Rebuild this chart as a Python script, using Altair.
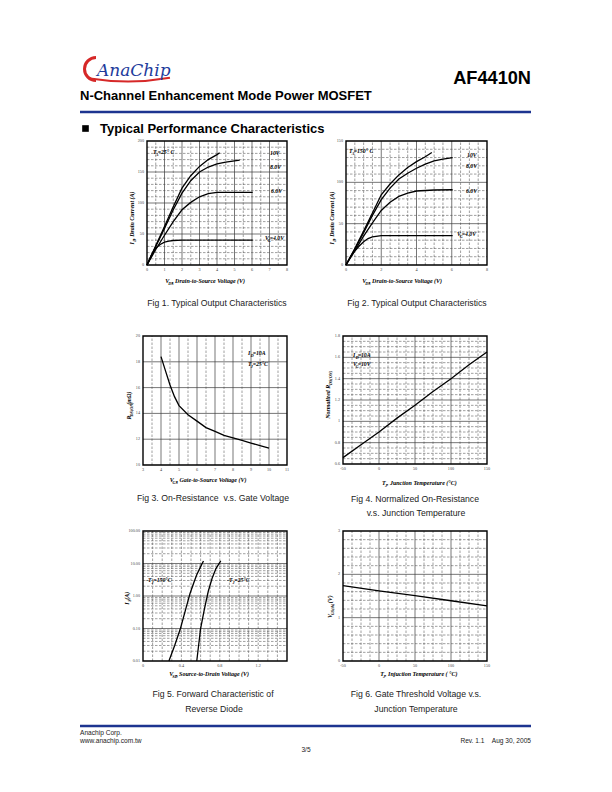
import altair as alt
import pandas as pd

# ---------------- data ----------------
# Fig 1  Output characteristics, TA = 25 C
F1_VDS_10V = [0, 0.5, 1, 1.5, 2, 2.5, 3, 3.5, 4, 4.15]
F1_ID_10V = [0, 31, 62, 94, 124, 144, 159, 170, 178, 181]
F1_VDS_8V = [0, 0.5, 1, 1.5, 2, 2.5, 3, 3.5, 4, 4.5, 5, 5.3]
F1_ID_8V = [0, 30, 59, 89, 116, 136, 150, 158, 163, 166, 168, 169]
F1_VDS_6V = [0, 0.5, 1, 1.5, 2, 2.5, 3, 3.5, 4, 5, 6.04]
F1_ID_6V = [0, 25, 48, 70, 89, 101, 110, 115, 117, 117, 117]
F1_VDS_4V = [0, 0.25, 0.5, 0.75, 1, 1.25, 1.5, 2, 3, 4, 5, 6.04]
F1_ID_4V = [0, 16, 27, 33, 37, 38.5, 39.5, 40, 40, 40, 40, 40]

# Fig 2  Output characteristics, TA = 150 C
F2_VDS_10V = [0, 0.5, 1, 1.5, 2, 2.5, 3, 3.5, 4, 4.5, 4.87]
F2_ID_10V = [0, 20, 41, 63, 85, 98, 109, 118, 125, 131, 136]
F2_VDS_8V = [0, 0.5, 1, 1.5, 2, 2.5, 3, 3.5, 4, 4.5, 5, 5.5, 6.05]
F2_ID_8V = [0, 19, 39, 60, 79, 93, 104, 111, 117, 122, 126, 128, 130]
F2_VDS_6V = [0, 0.5, 1, 1.5, 2, 2.5, 3, 3.5, 4, 5, 6.05]
F2_ID_6V = [0, 17, 35, 51, 66, 76, 83, 87, 89.5, 90.7, 91]
F2_VDS_4V = [0, 0.25, 0.5, 0.75, 1, 1.25, 1.5, 2, 3, 4, 5, 6.05]
F2_ID_4V = [0, 10, 17, 23, 28, 32, 34, 35.5, 35.5, 35.5, 35.5, 35.5]

# Fig 3  On-resistance vs gate voltage
F3_VGS = [4, 4.25, 4.5, 4.75, 5, 5.5, 6, 6.5, 7, 7.5, 8, 8.5, 9, 9.5, 10]
F3_RDS = [18.4, 17.3, 16.2, 15.3, 14.6, 13.9, 13.4, 12.9, 12.6, 12.3, 12.1, 11.9, 11.7, 11.5, 11.3]

# Fig 4  Normalized on-resistance vs junction temperature
F4_TJ = [-50, -25, 0, 25, 50, 75, 100, 125, 150]
F4_RN = [0.66, 0.78, 0.90, 1.03, 1.15, 1.28, 1.40, 1.53, 1.65]

# Fig 5  Forward characteristic of reverse diode
F5_VSD_150 = [0.27, 0.33, 0.39, 0.44, 0.49, 0.53, 0.56, 0.60, 0.63]
F5_IS_150 = [0.01, 0.03, 0.1, 0.35, 1.2, 2.6, 4.5, 8, 12]
F5_VSD_25 = [0.56, 0.60, 0.64, 0.68, 0.72, 0.76, 0.81]
F5_IS_25 = [0.01, 0.1, 0.4, 1.4, 3.5, 7, 12]

# Fig 6  Gate threshold voltage vs junction temperature
F6_TJ = [-50, 0, 50, 100, 150]
F6_VTH = [1.74, 1.62, 1.51, 1.39, 1.27]

# tick labels
F1_XT = [0, 1, 2, 3, 4, 5, 6, 7, 8]
F1_YT = [0, 50, 100, 150, 200]
F2_XT = [0, 2, 4, 6, 8]
F2_YT = [0, 50, 100, 150]
F3_XT = [3, 4, 5, 6, 7, 8, 9, 10, 11]
F3_YT = [10, 12, 14, 16, 18, 20]
F4_XT = [-50, 0, 50, 100, 150]
F4_YT = [0.6, 0.8, 1.0, 1.2, 1.4, 1.6, 1.8]
F4_YL = ["0.6", "0.8", "1", "1.2", "1.4", "1.6", "1.8"]
F5_XT = [0, 0.4, 0.8, 1.2]
F5_XL = ["0", "0.4", "0.8", "1.2"]
F5_YT = [0.01, 0.1, 1, 10, 100]
F5_YL = ["0.01", "0.10", "1.00", "10.00", "100.00"]
F6_XT = [-50, 0, 50, 100, 150]
F6_YT = [0, 1, 2, 3]

SERIF = "Liberation Serif"
SANS = "Liberation Sans"
NAVY = "#1d3490"
GRID_SOLID = "#3c3c3c"
GRID_DASH = "#505050"
NB = "\u00a0"


def one():
    return pd.DataFrame({"k": [0]})


def txt(s, x, y, size, font=SANS, bold=False, italic=False, align="left",
        color="black", angle=0, baseline="alphabetic"):
    props = dict(text=s, fontSize=size, font=font, align=align,
                 baseline=baseline, color=color)
    if bold:
        props["fontWeight"] = "bold"
    if italic:
        props["fontStyle"] = "italic"
    if angle:
        props["angle"] = angle
    return alt.Chart(one()).mark_text(**props).encode(x=alt.value(x), y=alt.value(y))


CW = 0.47


def rich(parts, x, y, size, anchor="middle", angle=0):
    ws = []
    for s, sub in parts:
        fs = size * 0.7 if sub else size
        ws.append(len(s) * fs * CW)
    total = sum(ws)
    out = []
    cur = 0.0
    for (s, sub), w in zip(parts, ws):
        fs = size * 0.7 if sub else size
        shift = size * 0.3 if sub else 0
        if angle == 0:
            start = x - total / 2 if anchor == "middle" else x
            px, py = start + cur, y + shift
        else:
            start = y + total / 2 if anchor == "middle" else y
            px, py = x + shift, start - cur
        out.append(txt(s, px, py, fs, font=SERIF, bold=True, italic=True, angle=angle))
        cur += w
    return out


def minor(lo, hi, step, skip):
    vals = []
    v = lo + step
    while v < hi - 1e-9:
        if all(abs(v - s) > 1e-9 for s in skip):
            vals.append(round(v, 6))
        v += step
    return vals


def panel(p):
    xs_kw = dict(domain=p["xdom"], range=p["xrng"], nice=False, zero=False)
    ys_kw = dict(domain=p["ydom"], range=p["yrng"], nice=False)
    if p.get("ylog"):
        ys_kw["type"] = "log"
    else:
        ys_kw["zero"] = False

    def X(f):
        return alt.X(f, scale=alt.Scale(**xs_kw), axis=None)

    def Y(f):
        return alt.Y(f, scale=alt.Scale(**ys_kw), axis=None)

    def XD(v):
        return alt.XDatum(v, scale=alt.Scale(**xs_kw), axis=None)

    def YD(v):
        return alt.YDatum(v, scale=alt.Scale(**ys_kw), axis=None)

    x0, x1 = p["xdom"]
    y0, y1 = p["ydom"]
    L = []

    def vr(vals, dashed):
        if not vals:
            return
        df = pd.DataFrame({"v": vals})
        kw = dict(color=GRID_DASH if dashed else GRID_SOLID,
                  strokeWidth=0.55 if dashed else 0.7)
        if dashed:
            kw["strokeDash"] = [2.5, 1.5]
        L.append(alt.Chart(df).mark_rule(**kw).encode(
            x=X("v:Q"), y=YD(y0), y2=alt.datum(y1)))

    def hr(vals, dashed):
        if not vals:
            return
        df = pd.DataFrame({"w": vals})
        kw = dict(color=GRID_DASH if dashed else GRID_SOLID,
                  strokeWidth=0.55 if dashed else 0.7)
        if dashed:
            kw["strokeDash"] = [2.5, 1.5]
        L.append(alt.Chart(df).mark_rule(**kw).encode(
            y=Y("w:Q"), x=XD(x0), x2=alt.datum(x1)))

    vr(p["xminor"], True)
    hr(p["yminor"], True)
    vr(p["xmajor"], False)
    hr(p["ymajor"], False)

    rows = []
    for name, xs, ys in p["series"]:
        for i, (a, b) in enumerate(zip(xs, ys)):
            rows.append({"s": name, "i": i, "x": a, "y": b})
    ldf = pd.DataFrame(rows)
    L.append(alt.Chart(ldf).mark_line(color="black", strokeWidth=1.3).encode(
        x=X("x:Q"), y=Y("y:Q"), detail="s:N", order="i:Q"))

    L.append(alt.Chart(one()).mark_rect(fillOpacity=0, stroke="black", strokeWidth=1.4).encode(
        x=XD(x0), x2=alt.datum(x1), y=YD(y0), y2=alt.datum(y1)))

    xl = p.get("xlab") or [str(v) for v in p["xt"]]
    yl = p.get("ylab") or [str(v) for v in p["yt"]]
    L.append(alt.Chart(pd.DataFrame({"t": p["xt"], "l": xl})).mark_text(
        fontSize=4.2, font=SERIF, color="#444", baseline="top").encode(
        x=X("t:Q"), y=alt.value(p["yrng"][0] + 3), text="l:N"))
    L.append(alt.Chart(pd.DataFrame({"t": p["yt"], "l": yl})).mark_text(
        fontSize=4.2, font=SERIF, color="#444", align="right", baseline="middle").encode(
        y=Y("t:Q"), x=alt.value(p["xrng"][0] - 3), text="l:N"))

    L += rich(p["xtitle"], p["xtpos"][0], p["xtpos"][1], 6)
    L += rich(p["ytitle"], p["ytpos"][0], p["ytpos"][1], 6, angle=270)
    for parts, ax, ay in p["notes"]:
        L += rich(parts, ax, ay, 5.8, anchor="start")
    for line, cx, cy in p["caption"]:
        L.append(txt(line, cx, cy, 8.7, align="center", color="#222"))
    return alt.layer(*L)


fig1 = panel(dict(
    xdom=[0, 8], xrng=[147, 287], ydom=[0, 200], yrng=[265, 141],
    xmajor=[1, 2, 3, 4, 5, 6, 7], xminor=minor(0, 8, 0.5, [1, 2, 3, 4, 5, 6, 7]),
    ymajor=[50, 100, 150], yminor=minor(0, 200, 10, [50, 100, 150]),
    series=[("10V", F1_VDS_10V, F1_ID_10V), ("8V", F1_VDS_8V, F1_ID_8V),
            ("6V", F1_VDS_6V, F1_ID_6V), ("4V", F1_VDS_4V, F1_ID_4V)],
    xt=F1_XT, yt=F1_YT,
    xtitle=[("V", 0), ("DS", 1), (" , Drain-to-Source Voltage (V)", 0)], xtpos=(211, 283),
    ytitle=[("I", 0), ("D", 1), (" , Drain Current (A)", 0)], ytpos=(134, 214),
    notes=[([("T", 0), ("A", 1), ("=25\u00b0 C", 0)], 153, 154),
           ([("10V", 0)], 270, 155), ([("8.0V", 0)], 270, 169), ([("6.0V", 0)], 271, 193),
           ([("V", 0), ("G", 1), ("=4.0V", 0)], 265, 240)],
    caption=[("Fig 1. Typical Output Characteristics", 217, 306)],
))

fig2 = panel(dict(
    xdom=[0, 8], xrng=[346, 487], ydom=[0, 150], yrng=[265, 141],
    xmajor=[2, 4, 6], xminor=minor(0, 8, 0.5, [2, 4, 6]),
    ymajor=[50, 100], yminor=minor(0, 150, 10, [50, 100]),
    series=[("10V", F2_VDS_10V, F2_ID_10V), ("8V", F2_VDS_8V, F2_ID_8V),
            ("6V", F2_VDS_6V, F2_ID_6V), ("4V", F2_VDS_4V, F2_ID_4V)],
    xt=F2_XT, yt=F2_YT,
    xtitle=[("V", 0), ("DS", 1), (" , Drain-to-Source Voltage (V)", 0)], xtpos=(408, 283),
    ytitle=[("I", 0), ("D", 1), (" , Drain Current (A)", 0)], ytpos=(334, 214),
    notes=[([("T", 0), ("A", 1), ("=150\u00b0 C", 0)], 349, 153),
           ([("10V", 0)], 467, 157), ([("8.0V", 0)], 466, 168), ([("6.0V", 0)], 466, 193),
           ([("V", 0), ("G", 1), ("=4.0V", 0)], 457, 236)],
    caption=[("Fig 2. Typical Output Characteristics", 417, 306)],
))

fig3 = panel(dict(
    xdom=[3, 11], xrng=[143, 287], ydom=[10, 20], yrng=[465, 336],
    xmajor=[4, 5, 6, 7, 8, 9, 10], xminor=minor(3, 11, 0.5, [4, 5, 6, 7, 8, 9, 10]),
    ymajor=[12, 14, 16, 18], yminor=[],
    series=[("r", F3_VGS, F3_RDS)],
    xt=F3_XT, yt=F3_YT,
    xtitle=[("V", 0), ("GS", 1), (" , Gate-to-Source Voltage (V)", 0)], xtpos=(214, 482),
    ytitle=[("R", 0), ("DS(ON)", 1), (" (m\u03a9)", 0)], ytpos=(131, 405),
    notes=[([("I", 0), ("D", 1), ("=10A", 0)], 248, 355),
           ([("T", 0), ("J", 1), ("=25\u00b0C", 0)], 248, 366)],
    caption=[("Fig 3. On-Resistance" + NB + " v.s. Gate Voltage", 213, 501)],
))

fig4 = panel(dict(
    xdom=[-50, 150], xrng=[343, 487], ydom=[0.6, 1.8], yrng=[464, 336],
    xmajor=[0, 50, 100], xminor=minor(-50, 150, 12.5, [0, 50, 100]),
    ymajor=[0.8, 1.0, 1.2, 1.4, 1.6], yminor=minor(0.6, 1.8, 0.05, [0.8, 1.0, 1.2, 1.4, 1.6]),
    series=[("n", F4_TJ, F4_RN)],
    xt=F4_XT, yt=F4_YT, ylab=F4_YL,
    xtitle=[("T", 0), ("J", 1), (" , Junction Temperature (\u00b0C)", 0)], xtpos=(424, 485),
    ytitle=[("Normalized R", 0), ("DS(ON)", 1)], ytpos=(330, 396),
    notes=[([("I", 0), ("D", 1), ("=10A", 0)], 353, 357),
           ([("V", 0), ("G", 1), ("=10V", 0)], 353, 366)],
    caption=[("Fig 4. Normalized On-Resistance", 415, 502),
             ("v.s. Junction Temperature", 416, 516)],
))

LOG_MINOR = [m * d for d in (0.01, 0.1, 1, 10) for m in (2, 3, 4, 5, 6, 7, 8, 9)]
fig5 = panel(dict(
    xdom=[0, 1.5], xrng=[143, 287], ydom=[0.01, 100], yrng=[661, 531], ylog=True,
    xmajor=[], xminor=minor(0, 1.5, 0.1, []),
    ymajor=[0.1, 1, 10], yminor=LOG_MINOR,
    series=[("150", F5_VSD_150, F5_IS_150), ("25", F5_VSD_25, F5_IS_25)],
    xt=F5_XT, xlab=F5_XL, yt=F5_YT, ylab=F5_YL,
    xtitle=[("V", 0), ("SD", 1), (" , Source-to-Drain Voltage (V)", 0)], xtpos=(215, 676),
    ytitle=[("I", 0), ("S", 1), ("(A)", 0)], ytpos=(129, 598),
    notes=[([("-T", 0), ("J", 1), ("=150\u00b0C", 0)], 146, 582),
           ([("-T", 0), ("J", 1), ("=25\u00b0C", 0)], 227, 582)],
    caption=[("Fig 5. Forward Characteristic of", 213, 697),
             ("Reverse Diode", 214, 712)],
))

fig6 = panel(dict(
    xdom=[-50, 150], xrng=[343, 487], ydom=[0, 3], yrng=[661, 531],
    xmajor=[0, 50, 100], xminor=minor(-50, 150, 12.5, [0, 50, 100]),
    ymajor=[1, 2], yminor=minor(0, 3, 0.2, [1, 2]),
    series=[("v", F6_TJ, F6_VTH)],
    xt=F6_XT, yt=F6_YT,
    xtitle=[("T", 0), ("J", 1), (" , Injuction Temperature ( \u00b0C)", 0)], xtpos=(425, 676),
    ytitle=[("V", 0), ("GS(th)", 1), (" (V)", 0)], ytpos=(332, 605),
    notes=[],
    caption=[("Fig 6. Gate Threshold Voltage v.s.", 416, 697),
             ("Junction Temperature", 416, 712)],
))

# ---------------- header / footer ----------------
deco = []
deco.append(alt.Chart(one()).mark_arc(theta=3.1416, theta2=6.2832, radius=13, radius2=10,
                                      color="#d62828").encode(x=alt.value(96), y=alt.value(69)))
deco.append(alt.Chart(one()).mark_arc(theta=2.967, theta2=3.30, radius=242.5, radius2=240.5,
                                      color="#d62828").encode(x=alt.value(128), y=alt.value(-160)))
deco.append(txt("AnaChip", 97, 76, 17, font="DejaVu Serif", italic=True, color="#1e3c9c"))
deco.append(txt("AF4410N", 531, 84, 18.2, bold=True, align="right"))
deco.append(txt("N-Channel Enhancement Mode Power MOSFET", 80, 100, 13, bold=True))
deco.append(alt.Chart(one()).mark_rule(color=NAVY, strokeWidth=2.6).encode(
    x=alt.value(80), x2=alt.value(531), y=alt.value(112)))
deco.append(alt.Chart(one()).mark_point(shape="square", filled=True, size=44, color="black",
                                        opacity=1).encode(x=alt.value(85.5), y=alt.value(128.5)))
deco.append(txt("Typical Performance Characteristics", 100, 133, 13, bold=True))
deco.append(alt.Chart(one()).mark_rule(color=NAVY, strokeWidth=2.6).encode(
    x=alt.value(80), x2=alt.value(531), y=alt.value(726)))
deco.append(txt("Anachip Corp.", 80, 734.5, 6.6, color="#222"))
deco.append(txt("www.anachip.com.tw", 80, 743, 6.6, color="#222"))
deco.append(txt("Rev. 1.1" + NB * 4 + "Aug 30, 2005", 531, 743, 6.6, align="right", color="#222"))
deco.append(txt("3/5", 306, 752, 6.6, align="center", color="#222"))

chart = alt.layer(*deco, fig1, fig2, fig3, fig4, fig5, fig6).resolve_scale(
    x="independent", y="independent"
).properties(
    width=612, height=792, padding=0,
    autosize=alt.AutoSizeParams(type="none"),
    background="white",
).configure_view(stroke=None).configure_axis(disable=True)

chart.save("out.html", embed_options={"renderer": "svg", "actions": False})
